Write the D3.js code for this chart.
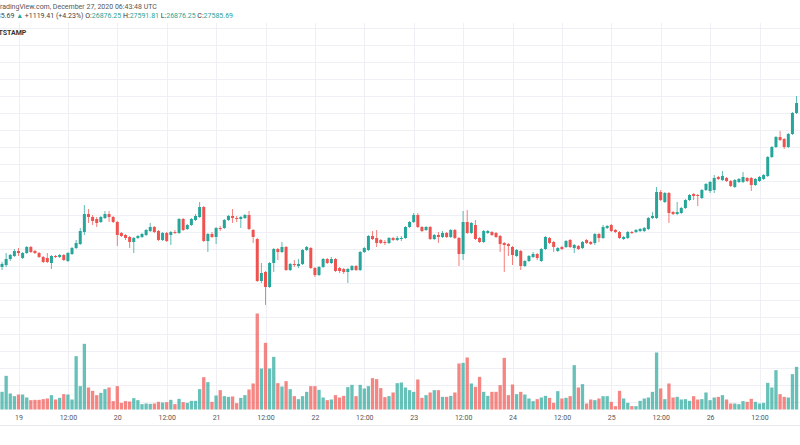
<!DOCTYPE html>
<html><head><meta charset="utf-8">
<script src="https://cdn.jsdelivr.net/npm/d3@7"></script>
<style>html,body{margin:0;padding:0;background:#fff;overflow:hidden}svg{display:block}</style>
</head><body><svg id="c" width="800" height="445"></svg>
<script>
// ---- data (hourly candles, BTCUSD Bitstamp) ----
const startHour = "2020-12-18T20:00:00Z";
const open = [22971,23029,23206,23294,23441,23235,23382,23559,23441,23382,23265,23235,23088,23294,23265,23324,23147,23353,23529,23647,24000,24529,24441,24382,24294,24412,24529,24441,24294,23971,23912,23853,23706,23824,23853,23912,24029,24147,24029,23765,23971,23912,24000,23971,24382,24088,24206,24353,24441,24735,23735,23941,23853,24118,24118,24353,24471,24412,24382,24412,24500,24059,23794,22559,22824,22382,23088,23500,23412,23559,22882,23059,23000,23059,23471,23529,22941,22735,22971,23206,23088,23206,22941,22912,22824,22882,23000,22882,23412,23471,23882,23824,23765,23706,23676,23824,23765,23794,23824,24147,24294,24500,24147,24059,24147,23794,23912,23853,23971,23853,24059,23824,23353,24294,23971,24206,23824,23706,23971,24000,23971,23882,23676,23647,23559,23294,23441,23000,23147,23265,23353,23147,23500,23824,23706,23441,23559,23559,23765,23529,23588,23529,23765,23706,23676,23941,23824,24118,24206,24059,24000,23794,23824,24000,24000,24029,24029,24088,24412,24412,25176,24882,25147,24588,24529,24559,24706,24941,25118,25088,25000,25235,25206,25235,25618,25529,25588,25500,25324,25471,25471,25588,25588,25382,25500,25559,25647,26206,26500,26794,26735,26500,26882,27500];
const high = [23118,23382,23353,23500,23529,23412,23588,23588,23471,23412,23294,23382,23324,23324,23353,23353,23412,23559,23765,24118,24794,24676,24500,24441,24471,24618,24618,24471,24324,24000,23941,23882,23853,23912,23971,24088,24265,24176,24059,24000,24000,24029,24059,24412,24412,24235,24412,24529,24882,24765,23971,24000,24147,24176,24382,24500,24676,24471,24471,24529,24618,24088,23824,23088,22853,23118,23529,23529,23706,23588,23088,23176,23206,23500,23588,23559,22971,23000,23235,23235,23265,23235,22971,22941,22941,23029,23029,23441,23559,23912,24029,24059,23794,23765,23853,23853,23882,23882,24176,24324,24559,24559,24176,24176,24176,23941,24000,24029,24000,24088,24088,23853,24618,24647,24294,24353,23853,24059,24059,24029,24000,23912,23706,23676,23588,23500,23471,23176,23324,23412,23382,23529,23882,23853,23735,23559,23588,23765,23794,23647,23618,23735,23794,23735,23971,23971,24206,24206,24235,24088,24029,23882,24029,24029,24088,24118,24147,24441,24588,25324,25235,25176,25176,24618,24882,24735,24971,25118,25147,25118,25265,25441,25500,25676,25647,25794,25618,25529,25559,25588,25765,25618,25618,25588,25647,25706,26235,26529,26824,26971,26765,26912,27529,28000];
const low = [22882,22971,23147,23265,23294,23206,23353,23382,23353,23235,23088,23088,22912,23235,23235,23147,23118,23324,23500,23618,23912,24265,24206,24147,24265,24382,24294,24265,23588,23853,23765,23529,23382,23794,23824,23882,24000,23971,23735,23735,23706,23618,23941,23941,24029,24059,24176,24324,24412,23706,23412,23824,23647,24029,24088,24324,24265,24294,24118,24382,24059,23676,22529,22500,21853,22353,22824,23176,23382,22853,22853,22971,22941,23029,23441,22912,22676,22706,22941,23059,23059,22824,22794,22765,22500,22853,22853,22853,23382,23441,23765,23559,23647,23618,23647,23735,23735,23735,23794,24118,24265,24118,24000,24029,23765,23765,23676,23824,23824,23824,23794,23000,23176,23941,23941,23765,23676,23676,23941,23882,23824,23412,22824,23294,23029,23265,22882,22971,23118,23235,23176,23118,23471,23647,23412,23412,23471,23529,23529,23382,23471,23500,23647,23618,23618,23706,23794,24088,24000,23971,23794,23765,23794,23941,23971,24000,24000,24059,24382,24382,24912,24853,24265,24500,24500,24529,24676,24912,24941,24765,24971,25206,25147,25147,25529,25500,25471,25324,25294,25441,25441,25471,25206,25353,25471,25529,25618,26176,26471,26676,26441,26471,26853,27471];
const close = [23059,23206,23324,23441,23382,23382,23559,23412,23382,23265,23118,23118,23294,23265,23324,23176,23382,23529,23676,24029,24529,24441,24324,24265,24441,24529,24441,24294,23912,23882,23824,23706,23824,23882,23941,24059,24147,24000,23765,23971,23735,24000,23971,24382,24059,24206,24382,24471,24735,23735,23941,23853,24118,24088,24353,24471,24412,24382,24441,24500,24088,23853,22559,22794,22382,23088,23500,23412,23559,22882,23059,23029,23059,23471,23559,22941,22735,22971,23206,23088,23206,22853,22853,22824,22912,23000,22882,23412,23529,23882,23794,23676,23676,23676,23824,23765,23824,23824,24147,24294,24500,24147,24029,24147,23794,23912,23853,23971,23853,24059,23824,23353,24294,23971,24265,23794,23706,24029,24029,23912,23853,23647,23618,23588,23324,23471,23000,23147,23294,23353,23235,23500,23853,23676,23559,23529,23500,23735,23559,23618,23500,23706,23676,23647,23941,23824,24147,24176,24029,24000,23824,23853,24000,23971,24059,24088,24118,24412,24471,25176,24941,25147,24559,24529,24588,24706,24941,25088,25059,25059,25235,25412,25471,25588,25559,25647,25500,25353,25529,25559,25618,25500,25382,25559,25618,25676,26206,26500,26794,26706,26500,26882,27500,27794];
const volume = [354,673,320,267,300,300,240,187,193,193,207,220,287,200,233,307,300,200,1067,467,1313,440,373,287,333,407,440,167,467,133,167,160,227,187,107,120,113,120,153,140,147,193,107,213,147,133,173,173,407,647,547,153,280,387,267,253,260,127,233,287,400,520,1920,820,1333,820,1053,527,460,567,407,267,207,267,353,467,467,393,240,187,200,287,240,273,447,493,267,493,420,467,627,607,427,247,267,340,527,540,440,387,353,600,233,287,340,387,387,253,253,273,340,920,933,1040,520,453,653,353,273,353,353,487,1033,287,500,307,353,300,220,167,207,240,273,233,133,367,220,233,267,887,440,507,120,200,187,220,267,267,153,67,373,220,133,67,67,173,220,240,353,1140,420,207,520,240,253,200,207,173,267,200,207,340,187,240,253,287,200,120,120,107,167,153,213,153,120,133,533,440,787,307,253,240,707,853];
const tickTimes = ["2020-12-19T00:00:00Z","2020-12-19T12:00:00Z","2020-12-20T00:00:00Z","2020-12-20T12:00:00Z","2020-12-21T00:00:00Z","2020-12-21T12:00:00Z","2020-12-22T00:00:00Z","2020-12-22T12:00:00Z","2020-12-23T00:00:00Z","2020-12-23T12:00:00Z","2020-12-24T00:00:00Z","2020-12-24T12:00:00Z","2020-12-25T00:00:00Z","2020-12-25T12:00:00Z","2020-12-26T00:00:00Z","2020-12-26T12:00:00Z"];
const tickLabels = ["19","12:00","20","12:00","21","12:00","22","12:00","23","12:00","24","12:00","25","12:00","26","12:00"];
const headerLine1 = "TradingView.com, December 27, 2020 06:43:48 UTC";
const lastPrice = "27585.69", change = "+1119.41 (+4.23%)";
const ohlcLabels = ["O:","H:","L:","C:"];
const ohlcValues = ["26876.25","27591.81","26876.25","27585.69"];
const symbol = "BITSTAMP";
const gridPrices = d3.range(19000, 30001, 500);

// ---- chart ----
const UP = "#26a69a", DOWN = "#ef5350", FONT = "Roboto, 'Noto Sans', sans-serif";
const svg = d3.select("#c");
const t0 = new Date(startHour).getTime();
const times = open.map((_, i) => new Date(t0 + i * 3600e3));
const ticks = tickTimes.map(s => new Date(s));

const x = d3.scaleUtc()
  .domain([new Date("2020-12-19T00:00:00Z"), new Date("2020-12-26T00:00:00Z")])
  .range([18.5, 710.1]);
const y = d3.scaleLinear().domain([22000, 28000]).range([300, 96]);
const yv = d3.scaleLinear().domain([0, 2000]).range([409.5, 309.5]);

const paneTop = 23, paneBottom = 409.5;
svg.append("rect").attr("width", 800).attr("height", 445).attr("fill", "#fff");

// grid
const grid = svg.append("g").attr("stroke", "#eef0f6").attr("stroke-width", 1);
grid.selectAll("line.h").data(gridPrices.filter(p => y(p) > paneTop && y(p) < paneBottom))
  .join("line").attr("x1", 0).attr("x2", 800)
  .attr("y1", d => Math.round(y(d)) + 0.5).attr("y2", d => Math.round(y(d)) + 0.5);
grid.selectAll("line.v").data(ticks).join("line")
  .attr("x1", d => Math.round(x(d)) + 0.5).attr("x2", d => Math.round(x(d)) + 0.5)
  .attr("y1", paneTop).attr("y2", paneBottom);

// volume
const bw = 3.3;
svg.append("g").selectAll("rect").data(volume).join("rect")
  .attr("x", (d, i) => x(times[i]) - bw / 2)
  .attr("width", bw)
  .attr("y", d => yv(d))
  .attr("height", d => yv(0) - yv(d))
  .attr("fill", (d, i) => close[i] >= open[i] ? UP : DOWN)
  .attr("fill-opacity", 0.7);

// candles
const cg = svg.append("g");
const idx = d3.range(open.length);
cg.selectAll("line").data(idx).join("line")
  .attr("x1", i => x(times[i])).attr("x2", i => x(times[i]))
  .attr("y1", i => y(high[i])).attr("y2", i => y(low[i]))
  .attr("stroke", i => close[i] >= open[i] ? UP : DOWN)
  .attr("stroke-opacity", 0.75).attr("stroke-width", 1);
const cw = 3;
cg.selectAll("rect").data(idx).join("rect")
  .attr("x", i => x(times[i]) - cw / 2).attr("width", cw)
  .attr("y", i => y(Math.max(open[i], close[i])))
  .attr("height", i => Math.max(1, Math.abs(y(open[i]) - y(close[i]))))
  .attr("fill", i => close[i] >= open[i] ? UP : DOWN);

// time axis
const ax = svg.append("g").attr("transform", "translate(0,412.5)")
  .call(d3.axisBottom(x).tickValues(ticks).tickFormat((d, i) => tickLabels[i]).tickSize(0).tickPadding(3));
ax.select(".domain").remove();
ax.selectAll("text").attr("font-family", FONT).attr("font-size", 7).attr("fill", "#555");
svg.append("line").attr("x1", 0).attr("x2", 800).attr("y1", 425.5).attr("y2", 425.5)
  .attr("stroke", "#e6e8ef");

// header
svg.append("text").attr("x", -4).attr("y", 8.5).attr("font-family", FONT).attr("font-size", 7)
  .attr("fill", "#555").text(headerLine1);
const l2 = svg.append("text").attr("x", -15).attr("y", 18.2).attr("font-family", FONT).attr("font-size", 7).attr("fill", "#444");
l2.append("tspan").text(lastPrice + " ");
l2.append("tspan").attr("fill", UP).text("▲");
l2.append("tspan").text(" " + change + " ");
ohlcLabels.forEach((lab, k) => {
  l2.append("tspan").attr("fill", "#333").text(lab);
  l2.append("tspan").attr("fill", UP).text(ohlcValues[k] + " ");
});
svg.append("text").attr("x", -8).attr("y", 34.5).attr("font-family", FONT).attr("font-size", 7)
  .attr("font-weight", "bold").attr("fill", "#333").text(symbol);
</script></body></html>
